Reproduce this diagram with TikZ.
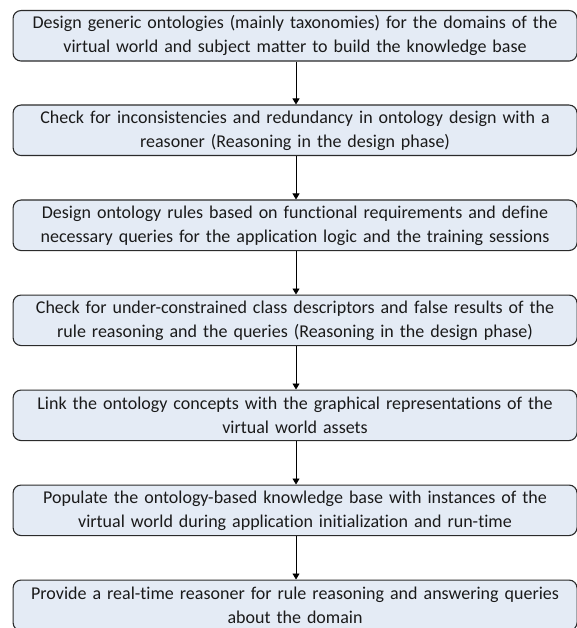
\documentclass[tikz,border=0pt]{standalone}
\usepackage{fontspec}
\setmainfont{Carlito}[Ligatures=NoCommon]
\usetikzlibrary{arrows.meta}
\definecolor{boxfill}{HTML}{E4EBF5}
\definecolor{boxline}{HTML}{2B2B2B}
\definecolor{boxtext}{HTML}{1A1A1A}
\tikzset{
  stepbox/.style={draw=boxline, line width=1.1pt, fill=boxfill, rounded corners=8pt,
    minimum width=564pt, minimum height=50.5pt, text width=560pt, align=center,
    text=boxtext, font=\fontsize{18}{24}\selectfont, inner sep=0pt, anchor=north west},
  flow/.style={draw=black, line width=0.8pt, -{Triangle[length=6pt,width=7pt]}}
}
\begin{document}
\begin{tikzpicture}[x=1pt,y=-1pt]
\useasboundingbox (0,0) rectangle (576,628);
\node[stepbox] (b1) at (12.5,10) {Design generic ontologies (mainly taxonomies) for the domains of the\\virtual world and subject matter to build the knowledge base};
\node[stepbox] (b2) at (12.5,104.5) {Check for inconsistencies and redundancy in ontology design with a\\reasoner (Reasoning in the design phase)};
\node[stepbox] (b3) at (12.5,199.5) {Design ontology rules based on functional requirements and define\\necessary queries for the application logic and the training sessions};
\node[stepbox] (b4) at (12.5,294.5) {Check for under-constrained class descriptors and false results of the\\rule reasoning and the queries (Reasoning in the design phase)};
\node[stepbox] (b5) at (12.5,389.5) {Link the ontology concepts with the graphical representations of the\\virtual world assets};
\node[stepbox] (b6) at (12.5,484.5) {Populate the ontology-based knowledge base with instances of the\\virtual world during application initialization and run-time};
\node[stepbox] (b7) at (12.5,579.5) {Provide a real-time reasoner for rule reasoning and answering queries\\about the domain};
\foreach \a/\b in {b1/b2,b2/b3,b3/b4,b4/b5,b5/b6,b6/b7}
  \draw[flow] (\a.south -| 296,0) -- (\b.north -| 296,0);
\end{tikzpicture}
\end{document}
